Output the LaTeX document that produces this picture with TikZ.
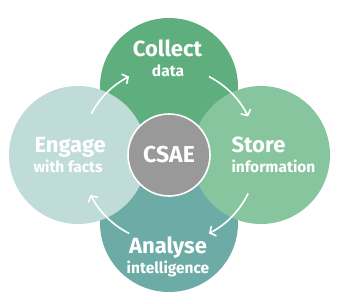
\documentclass[tikz,border=0pt]{standalone}
\usepackage{fontspec}
\setsansfont{Fira Sans}
\usetikzlibrary{arrows.meta, positioning}
\definecolor{ccollect}{HTML}{5EAE7E}
\definecolor{cstore}{HTML}{86C59E}
\definecolor{cengage}{HTML}{BFDCD9}
\definecolor{canalyse}{HTML}{6DACA6}
\definecolor{ccore}{HTML}{999999}
\tikzset{
  every picture/.style={font=\sffamily\bfseries},
  blob/.style={circle, fill=#1, minimum size=138pt, inner sep=0pt},
  head/.style={text=white, font=\sffamily\bfseries\fontsize{22}{24}\selectfont},
  sub/.style={text=white, font=\sffamily\bfseries\fontsize{15.5}{17}\selectfont},
  cycle/.style={draw=white, line width=1.6pt, -{Straight Barb[length=4.5pt, width=11pt]}},
}
\begin{document}
\begin{tikzpicture}[x=1pt, y=1pt]
  \useasboundingbox (0,0) rectangle (339,303);
  % four stages, side ones on top
  \node[blob=ccollect] (collect) at (169,216) {};
  \node[blob=canalyse] (analyse) at (169,80) {};
  \node[blob=cengage] (engage) at (78,148) {};
  \node[blob=cstore] (store) at (261,148) {};
  % core
  \node[circle, fill=ccore, draw=white, line width=1.6pt, minimum size=82pt, inner sep=0pt, text=white,
    font=\sffamily\bfseries\fontsize{23}{25}\selectfont] (csae) at (169,148) {CSAE};
  % labels
  \node[head, anchor=base] (collectT) at (167.5,246) {Collect};
  \node[sub, anchor=base] (collectS) at (168,226) {data};
  \node[head, anchor=base west] (engageT) at (31,151) {Engage};
  \node[sub, anchor=base west] (engageS) at (30,131) {with facts};
  \node[head, anchor=base west] (storeT) at (228,151) {Store};
  \node[sub, anchor=base west] (storeS) at (228,131) {information};
  \node[head, anchor=base] (analyseT) at (168,50) {Analyse};
  \node[sub, anchor=base] (analyseS) at (168,30) {intelligence};
  % cycle arrows round the core
  \foreach \a/\b in {152/117, 63/26, -26/-63, -117/-153}
    \draw[cycle] ([shift={(\a:88)}]csae.center) arc[start angle=\a, end angle=\b, radius=88];
\end{tikzpicture}
\end{document}
